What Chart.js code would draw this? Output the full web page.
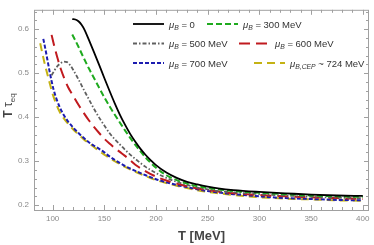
<!DOCTYPE html>
<html>
<head>
<meta charset="utf-8">
<script src="https://cdn.jsdelivr.net/npm/chart.js@4"></script>
<style>
  html, body { margin: 0; padding: 0; background: #fff; }
  canvas { display: block; }
</style>
</head>
<body>
<canvas id="chart" width="374" height="245"></canvas>
<script>
// T in MeV, values are T*tau_eq
const tMu0 = [119, 122, 125, 128, 131, 135, 140, 145, 150, 155, 160, 165, 170, 175, 180, 185, 190, 195, 200, 210, 220, 230, 240, 250, 260, 275, 300, 325, 350, 375, 400];
const tauMu0 = [0.623, 0.622, 0.618, 0.610, 0.598, 0.576, 0.548, 0.519, 0.489, 0.460, 0.432, 0.406, 0.383, 0.362, 0.344, 0.328, 0.314, 0.302, 0.291, 0.274, 0.262, 0.253, 0.247, 0.242, 0.238, 0.234, 0.230, 0.227, 0.224, 0.222, 0.221];

const tMu300 = [119, 125, 130, 135, 140, 145, 150, 155, 160, 165, 170, 175, 180, 185, 190, 195, 200, 210, 220, 230, 240, 250, 260, 275, 300, 325, 350, 375, 400];
const tauMu300 = [0.588, 0.560, 0.535, 0.511, 0.489, 0.467, 0.445, 0.425, 0.406, 0.388, 0.370, 0.353, 0.337, 0.322, 0.308, 0.296, 0.285, 0.268, 0.257, 0.249, 0.243, 0.239, 0.236, 0.232, 0.228, 0.225, 0.222, 0.220, 0.219];

const tMu500 = [99, 102, 105, 108, 111, 114, 117, 120, 125, 130, 135, 140, 145, 150, 155, 160, 165, 170, 175, 180, 190, 200, 210, 220, 230, 240, 250, 260, 275, 300, 325, 350, 375, 400];
const tauMu500 = [0.495, 0.507, 0.517, 0.523, 0.526, 0.525, 0.518, 0.507, 0.486, 0.463, 0.441, 0.419, 0.399, 0.381, 0.364, 0.350, 0.338, 0.326, 0.315, 0.305, 0.287, 0.273, 0.262, 0.253, 0.246, 0.240, 0.236, 0.232, 0.229, 0.225, 0.222, 0.219, 0.217, 0.216];

const tMu600 = [99, 102, 105, 108, 111, 115, 120, 125, 130, 135, 140, 145, 150, 155, 160, 165, 170, 175, 180, 190, 200, 210, 220, 230, 240, 250, 260, 275, 300, 325, 350, 375, 400];
const tauMu600 = [0.587, 0.558, 0.532, 0.509, 0.490, 0.468, 0.448, 0.428, 0.410, 0.393, 0.378, 0.364, 0.351, 0.340, 0.330, 0.321, 0.312, 0.302, 0.292, 0.277, 0.265, 0.256, 0.249, 0.243, 0.238, 0.234, 0.231, 0.227, 0.223, 0.220, 0.218, 0.216, 0.214];

const tMu700 = [91, 93, 95, 97, 99, 101, 104, 107, 110, 115, 120, 125, 130, 135, 140, 145, 150, 155, 160, 170, 180, 190, 200, 210, 220, 230, 240, 250, 260, 275, 300, 325, 350, 375, 400];
const tauMu700 = [0.578, 0.555, 0.530, 0.505, 0.482, 0.462, 0.440, 0.422, 0.408, 0.390, 0.376, 0.364, 0.353, 0.343, 0.335, 0.328, 0.320, 0.311, 0.303, 0.289, 0.278, 0.268, 0.259, 0.252, 0.246, 0.241, 0.236, 0.232, 0.229, 0.225, 0.220, 0.216, 0.214, 0.212, 0.211];

const tCep = [88, 90, 92, 94, 96, 98, 100, 103, 106, 110, 115, 120, 125, 130, 135, 140, 145, 150, 155, 160, 170, 180, 190, 200, 210, 220, 230, 240, 250, 260, 275, 300, 325, 350, 375, 400];
const tauCep = [0.568, 0.546, 0.525, 0.506, 0.488, 0.470, 0.453, 0.433, 0.416, 0.400, 0.385, 0.372, 0.361, 0.350, 0.341, 0.332, 0.323, 0.315, 0.307, 0.300, 0.287, 0.276, 0.266, 0.257, 0.250, 0.244, 0.239, 0.234, 0.230, 0.227, 0.223, 0.218, 0.215, 0.213, 0.211, 0.210];

const legendSubs = ["B", "B", "B", "B", "B", "B,CEP"];
const legendTexts = [" = 0", " = 300 MeV", " = 500 MeV", " = 600 MeV", " = 700 MeV", " ~ 724 MeV"];

const xTicks = [100, 150, 200, 250, 300, 350, 400];
const yTicks = [0.2, 0.3, 0.4, 0.5, 0.6];

const FONT = "'Liberation Sans', Arial, sans-serif";

const series = [
  { t: tMu0, v: tauMu0, color: "#000000", dash: [], width: 1.8 },
  { t: tMu300, v: tauMu300, color: "#1faa1f", dash: [6, 3], width: 2 },
  { t: tMu500, v: tauMu500, color: "#606060", dash: [4, 2, 1.5, 2], width: 1.8 },
  { t: tMu600, v: tauMu600, color: "#c01a1f", dash: [11, 6], width: 2 },
  { t: tMu700, v: tauMu700, color: "#1c1cb0", dash: [4, 2], width: 2 },
  { t: tCep, v: tauCep, color: "#c4b214", dash: [8, 5], width: 2 },
];

const toPoints = (t, v) => t.map((x, i) => ({ x: x, y: v[i] }));

// legend sample start x for each entry (the rows are not column-aligned)
const legendLineX = [133, 207, 133, 239, 133, 254];
const legendRowY = [24, 43.5, 63];

// frame with inward major/minor ticks on all four sides, legend, y title
const decorations = {
  id: "decorations",
  afterDraw(chart) {
    const { ctx, chartArea: a, scales: { x, y } } = chart;
    ctx.save();
    ctx.strokeStyle = "#a0a0a0";
    ctx.lineWidth = 1;
    ctx.strokeRect(a.left + 0.5, a.top + 0.5, a.right - a.left - 1, a.bottom - a.top);

    ctx.beginPath();
    for (let t = 90; t <= 400; t += 10) {
      const px = Math.round(x.getPixelForValue(t)) + 0.5;
      const len = t % 50 === 0 ? 5 : 3;
      ctx.moveTo(px, a.bottom); ctx.lineTo(px, a.bottom - len);
      ctx.moveTo(px, a.top); ctx.lineTo(px, a.top + len);
    }
    for (let k = 10; k <= 32; k++) {
      const py = Math.round(y.getPixelForValue(k * 0.02)) + 0.5;
      const len = k % 5 === 0 ? 5 : 3;
      ctx.moveTo(a.left, py); ctx.lineTo(a.left + len, py);
      ctx.moveTo(a.right, py); ctx.lineTo(a.right - len, py);
    }
    ctx.stroke();

    // legend
    ctx.textBaseline = "alphabetic";
    series.forEach((s, i) => {
      const lx = legendLineX[i];
      const ly = legendRowY[Math.floor(i / 2)];
      ctx.beginPath();
      ctx.setLineDash(s.dash);
      ctx.strokeStyle = s.color;
      ctx.lineWidth = s.width;
      ctx.moveTo(lx, ly); ctx.lineTo(lx + 31, ly);
      ctx.stroke();
      ctx.setLineDash([]);
      ctx.fillStyle = "#333";
      let tx = lx + 36;
      const base = ly + 3.5;
      ctx.font = "italic 9.5px " + FONT;
      ctx.fillText("μ", tx, base);
      tx += ctx.measureText("μ").width;
      ctx.font = "italic 6.8px " + FONT;
      ctx.fillText(legendSubs[i], tx, base + 2.2);
      tx += ctx.measureText(legendSubs[i]).width;
      ctx.font = "9.5px " + FONT;
      ctx.fillText(legendTexts[i], tx, base);
    });

    // y axis title: T tau_eq, rotated
    ctx.translate(12, 105.5);
    ctx.rotate(-Math.PI / 2);
    ctx.fillStyle = "#444";
    ctx.font = "bold 12px " + FONT;
    const wT = ctx.measureText("T ").width;
    ctx.font = "12px " + FONT;
    const wTau = ctx.measureText("τ").width;
    ctx.font = "8px " + FONT;
    const wEq = ctx.measureText("eq").width;
    let sx = -(wT + wTau + wEq) / 2;
    ctx.font = "bold 12px " + FONT;
    ctx.fillText("T ", sx, 0);
    sx += wT;
    ctx.font = "12px " + FONT;
    ctx.fillText("τ", sx, 0);
    sx += wTau;
    ctx.font = "8px " + FONT;
    ctx.fillText("eq", sx, 3);
    ctx.restore();
  },
};

new Chart(document.getElementById("chart"), {
  type: "line",
  data: {
    datasets: series.map((s) => ({
      data: toPoints(s.t, s.v),
      borderColor: s.color,
      borderDash: s.dash,
      borderWidth: s.width,
      pointRadius: 0,
      fill: false,
      cubicInterpolationMode: "monotone",
    })),
  },
  options: {
    responsive: false,
    animation: false,
    events: [],
    layout: { padding: { top: 4, right: 5, left: 0, bottom: 0 } },
    plugins: { legend: { display: false }, tooltip: { enabled: false } },
    scales: {
      x: {
        type: "linear",
        min: 82,
        max: 406,
        afterBuildTicks: (s) => { s.ticks = xTicks.map((v) => ({ value: v })); },
        afterFit: (s) => { s.height = 35; },
        grid: { display: false, drawTicks: false },
        border: { display: false },
        ticks: { color: "#8a8a8a", font: { size: 8, family: FONT }, padding: 4, maxRotation: 0 },
        title: {
          display: true,
          text: "T [MeV]",
          color: "#444",
          font: { size: 13, weight: "bold", family: FONT },
          padding: { top: 0, bottom: 1 },
        },
      },
      y: {
        type: "linear",
        min: 0.189,
        max: 0.644,
        afterBuildTicks: (s) => { s.ticks = yTicks.map((v) => ({ value: v })); },
        afterFit: (s) => { s.width = 34; },
        grid: { display: false, drawTicks: false },
        border: { display: false },
        ticks: {
          color: "#8a8a8a",
          font: { size: 8, family: FONT },
          padding: 5,
          callback: (v) => v.toFixed(1),
        },
      },
    },
  },
  plugins: [decorations],
});
</script>
</body>
</html>
